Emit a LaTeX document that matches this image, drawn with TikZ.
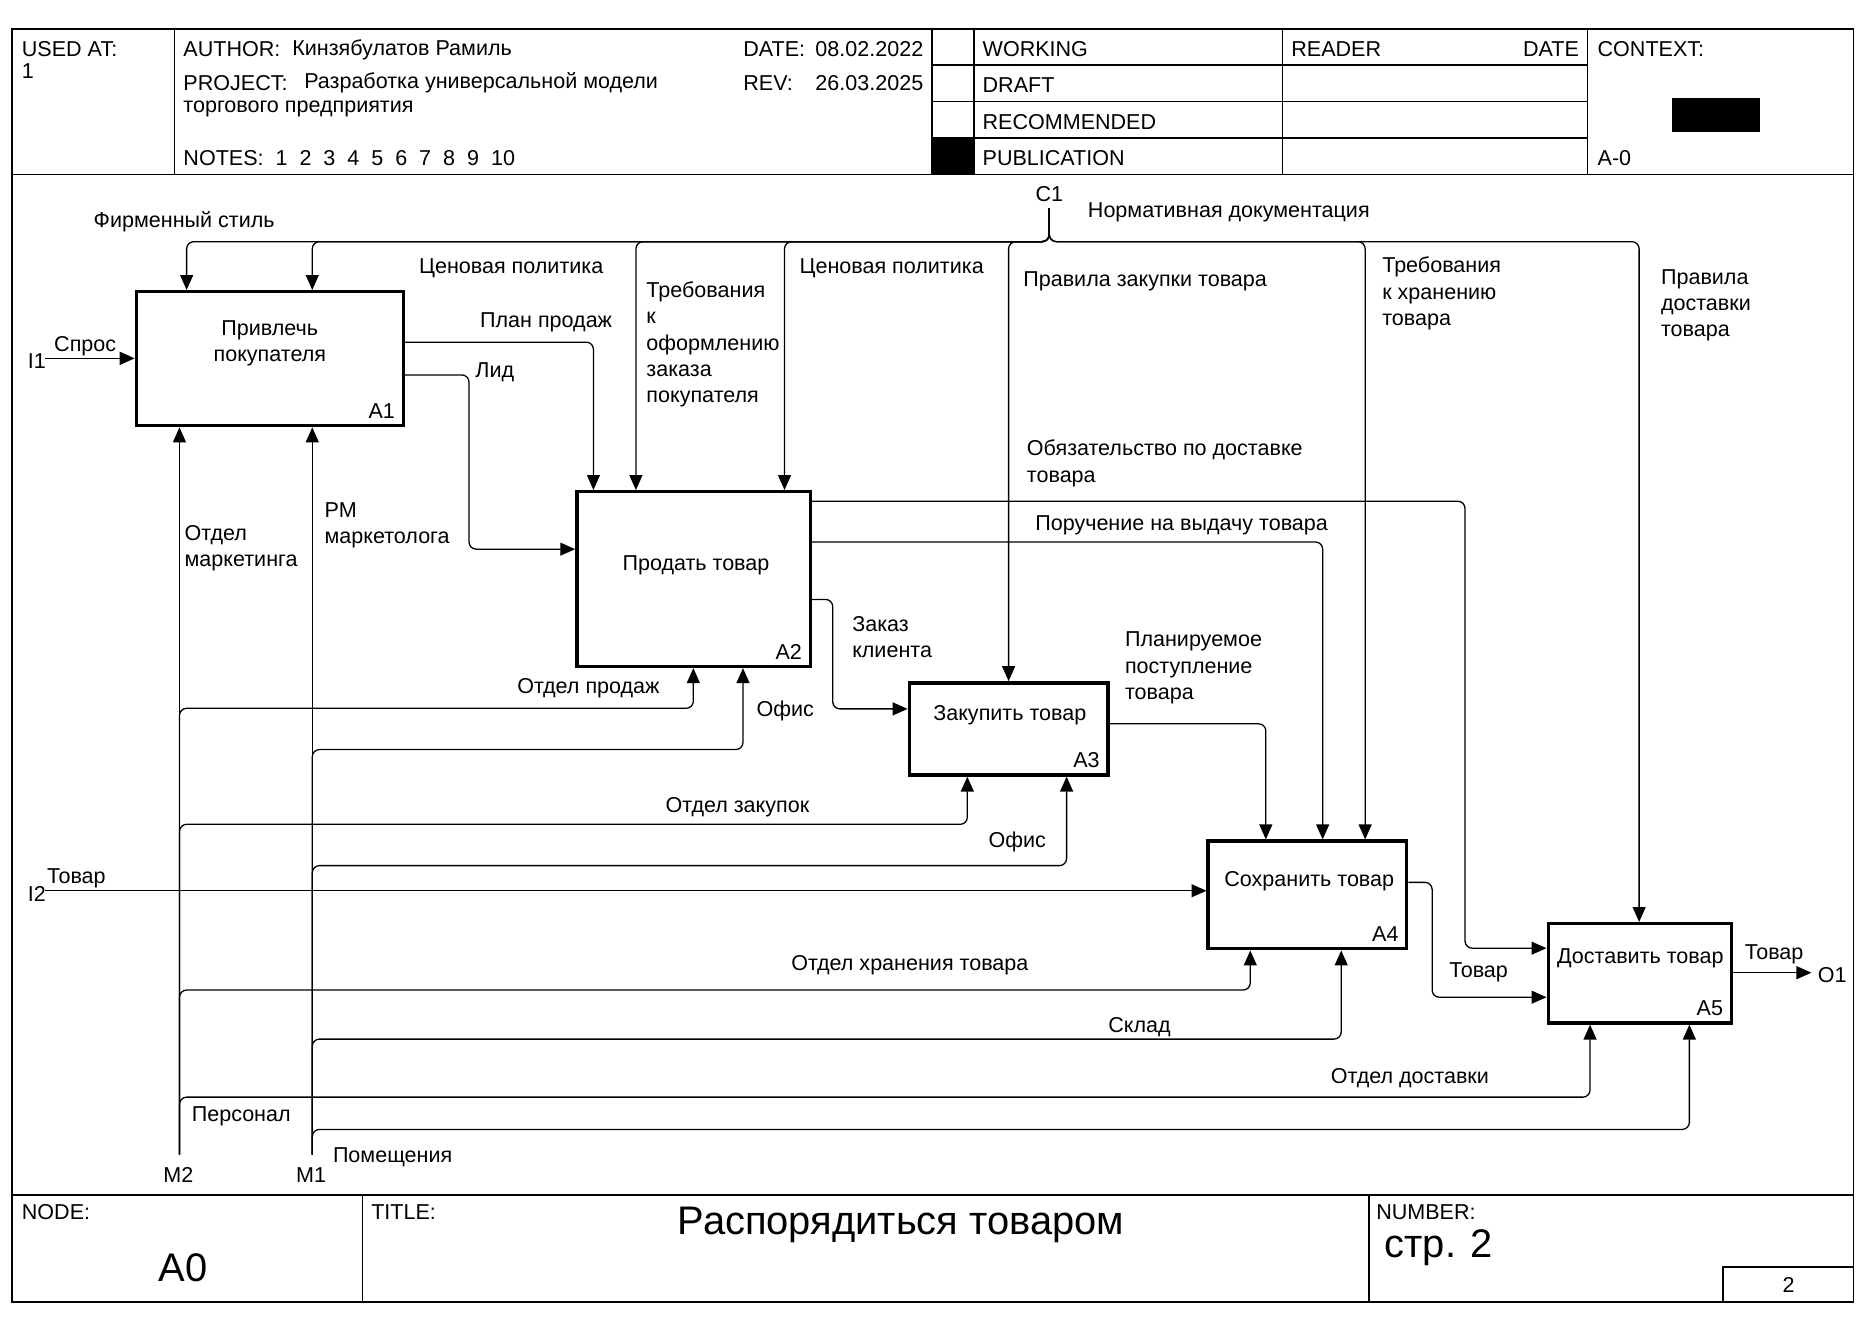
\documentclass[tikz,border=0pt]{standalone}
\usepackage{fontspec}
\setmainfont{Liberation Sans}
\usetikzlibrary{arrows.meta,calc}
\begin{document}
\begin{tikzpicture}[x=0.6pt,y=-0.6pt,
  font=\fontsize{10.8}{13.2}\selectfont,
  frame/.style={line width=0.8pt},
  conn/.style={line width=0.65pt, rounded corners=3.6pt},
  arr/.style={conn, -{Triangle[length=7.5pt,width=6.5pt]}},
  funcbox/.style={draw, line width=1.7pt, inner sep=0pt},
  lbl/.style={inner sep=0pt, anchor=west, align=left, yshift=-1.4pt},
  rlbl/.style={inner sep=0pt, anchor=east, yshift=-1.4pt},
  clbl/.style={inner sep=0pt, anchor=center, align=center, yshift=-1.4pt},
  big/.style={inner sep=0pt, font=\fontsize{20}{24}\selectfont, yshift=-1.6pt}]
\useasboundingbox (0,0) rectangle (1568,1108);
% ---------- frame ----------
\draw[frame] (10,24) rectangle (1549,1088);
\draw[frame] (10,146) -- (1549,146);
\draw[frame] (10,999) -- (1549,999);
\draw[frame] (146,24) -- (146,146);
\draw[frame] (779,24) -- (779,146);
\draw[frame] (814,24) -- (814,146);
\draw[frame] (1072,24) -- (1072,146);
\draw[frame] (1327,24) -- (1327,146);
\draw[frame] (779,54.5) -- (1327,54.5);
\draw[frame] (779,85) -- (1327,85);
\draw[frame] (779,115.5) -- (1327,115.5);
\fill (779,115.5) rectangle (814,146);
\fill (1397.6,81.6) rectangle (1470.8,110.6);
\draw[frame] (303,999) -- (303,1088);
\draw[frame] (1144,999) -- (1144,1088);
\draw[frame] (1440,1088) -- (1440,1059) -- (1549,1059);
% ---------- header text ----------
\node[lbl] (usedat) at (18,39) {USED AT:};
\node[lbl] (usedatv) at (18,57) {1};
\node[lbl] (author) at (153,39) {AUTHOR:};
\node[lbl] (authorv) at (244,39) {Кинзябулатов Рамиль};
\node[lbl] (project) at (153,67) {PROJECT:};
\node[lbl] (projectv) at (254,67) {Разработка универсальной модели};
\node[lbl] (projectv2) at (153,89) {торгового предприятия};
\node[lbl] (notes) at (153,130) {NOTES:\ \ 1\ \ 2\ \ 3\ \ 4\ \ 5\ \ 6\ \ 7\ \ 8\ \ 9\ \ 10};
\node[lbl] (date) at (621,39) {DATE:};
\node[rlbl] (datev) at (772,39) {08.02.2022};
\node[lbl] (rev) at (621,67) {REV:};
\node[rlbl] (revv) at (772,67) {26.03.2025};
\node[lbl] (working) at (821,39) {WORKING};
\node[lbl] (draft) at (821,69) {DRAFT};
\node[lbl] (recom) at (821,100) {RECOMMENDED};
\node[lbl] (publ) at (821,130) {PUBLICATION};
\node[lbl] (reader) at (1079,39) {READER};
\node[rlbl] (rdate) at (1320,39) {DATE};
\node[lbl] (context) at (1335,39) {CONTEXT:};
\node[lbl] (ctxnode) at (1335,130) {A-0};
% ---------- footer text ----------
\node[lbl] (nodelbl) at (18,1011) {NODE:};
\node[lbl] (titlelbl) at (310,1011) {TITLE:};
\node[lbl] (numlbl) at (1150,1011) {NUMBER:};
\node[big] (title) at (753,1021) {Распорядиться товаром};
\node[big] (nodev) at (153,1057) {A0};
\node[big, anchor=west] (numv) at (1157,1040) {стр. 2};
\node[clbl] (pg) at (1495,1072) {2};
% ---------- function boxes ----------
\node[funcbox, minimum width=133.8pt, minimum height=67.2pt] (A1) at (225.5,299.8) {};
\node[funcbox, minimum width=117pt, minimum height=87.6pt] (A2) at (579.7,484) {};
\node[funcbox, minimum width=99.6pt, minimum height=46.2pt] (A3) at (843,609.2) {};
\node[funcbox, minimum width=99.6pt, minimum height=54pt] (A4) at (1092.8,748) {};
\node[funcbox, minimum width=91.8pt, minimum height=49.8pt] (A5) at (1370.5,813.5) {};
\node[clbl] (A1t) at ($(A1)+(0,-15)$) {Привлечь\\покупателя};
\node[clbl] (A2t) at ($(A2)+(2,-13.5)$) {Продать товар};
\node[clbl] (A3t) at ($(A3)+(1,-14)$) {Закупить товар};
\node[clbl] (A4t) at ($(A4)+(1.5,-13.5)$) {Сохранить товар};
\node[clbl] (A5t) at ($(A5)+(0.5,-14.5)$) {Доставить товар};
\node[rlbl] (A1n) at ($(A1.south east)+(-8,-16)$) {A1};
\node[rlbl] (A2n) at ($(A2.south east)+(-8,-16)$) {A2};
\node[rlbl] (A3n) at ($(A3.south east)+(-8,-16)$) {A3};
\node[rlbl] (A4n) at ($(A4.south east)+(-8,-16)$) {A4};
\node[rlbl] (A5n) at ($(A5.south east)+(-8,-16)$) {A5};
% ---------- boundary points ----------
\coordinate (c1top) at (877,174);
\coordinate (c1bus) at (877,202);
\coordinate (i1) at (38,299.5);
\coordinate (i2) at (38,744.5);
\coordinate (o1) at (1514,813);
\coordinate (m2) at (150,965);
\coordinate (m1) at (261,965);
\node[clbl] (C1l) at (877,160) {C1};
\node[lbl] (I1l) at (23,299.5) {I1};
\node[lbl] (I2l) at (23,744.5) {I2};
\node[lbl] (O1l) at (1519,813) {O1};
\node[clbl] (M2l) at (149,980) {M2};
\node[clbl] (M1l) at (260,980) {M1};
% ---------- controls ----------
\draw[arr] (c1top) -- (c1bus) -| (A1.north -| 156,0);
\draw[arr] (c1top) -- (c1bus) -| (A1.north -| 261,0);
\draw[arr] (c1top) -- (c1bus) -| (A2.north -| 531.5,0);
\draw[arr] (c1top) -- (c1bus) -| (A2.north -| 655.7,0);
\draw[arr] (c1top) -- (c1bus) -| (A3.north -| 843,0);
\draw[arr] (c1top) -- (c1bus) -| (A4.north -| 1141,0);
\draw[arr] (c1top) -- (c1bus) -| (A5.north -| 1370,0);
% ---------- inputs ----------
\draw[arr] (i1) -- (A1.west |- i1);
\draw[arr] (i2) -- (A4.west |- i2);
% ---------- internal arrows ----------
\draw[arr] (A1.east |- 0,286) -| (A2.north -| 496,0);
\draw[arr] (A1.east |- 0,313.4) -| (392,459) -- (A2.west |- 0,459);
\draw[arr] (A2.east |- 0,419) -| (1224.5,792.5) -- (A5.west |- 0,792.5);
\draw[arr] (A2.east |- 0,453) -| (A4.north -| 1105.5,0);
\draw[arr] (A2.east |- 0,501) -| (696,592.5) -- (A3.west |- 0,592.5);
\draw[arr] (A3.east |- 0,605) -| (A4.north -| 1058,0);
\draw[arr] (A4.east |- 0,737.5) -| (1197,833.5) -- (A5.west |- 0,833.5);
\draw[arr] (A5.east |- 0,813) -- (o1);
% ---------- mechanisms ----------
\draw[arr] (m2) -- (A1.south -| m2);
\draw[arr] (m2) |- (579.5,592) -- (A2.south -| 579.5,0);
\draw[arr] (m2) |- (808.5,689) -- (A3.south -| 808.5,0);
\draw[arr] (m2) |- (1045,827.5) -- (A4.south -| 1045,0);
\draw[arr] (m2) |- (1329,917) -- (A5.south -| 1329,0);
\draw[arr] (m1) -- (A1.south -| m1);
\draw[arr] (m1) |- (621,626.5) -- (A2.south -| 621,0);
\draw[arr] (m1) |- (891.5,723.5) -- (A3.south -| 891.5,0);
\draw[arr] (m1) |- (1121,868.5) -- (A4.south -| 1121,0);
\draw[arr] (m1) |- (1412,944) -- (A5.south -| 1412,0);
% ---------- arrow labels ----------
\node[lbl] (L1) at (909,175) {Нормативная документация};
\node[lbl] (L2) at (78,183) {Фирменный стиль};
\node[lbl] (L3) at (350,222) {Ценовая политика};
\node[lbl] (L4) at (540,285.5) {Требования\\к\\оформлению\\заказа\\покупателя};
\node[lbl] (L5) at (668,222) {Ценовая политика};
\node[lbl] (L6) at (855,233) {Правила закупки товара};
\node[lbl] (L7) at (1155,243) {Требования\\к хранению\\товара};
\node[lbl] (L8) at (1388,253) {Правила\\доставки\\товара};
\node[lbl] (L9) at (45,287) {Спрос};
\node[lbl] (L10) at (39,732) {Товар};
\node[lbl] (L11) at (401,267) {План продаж};
\node[lbl] (L12) at (397,309) {Лид};
\node[lbl] (L13) at (858,385) {Обязательство по доставке\\товара};
\node[lbl] (L14) at (865,437) {Поручение на выдачу товара};
\node[lbl] (L15) at (712,530) {Заказ\\клиента};
\node[lbl] (L16) at (940,556) {Планируемое\\поступление\\товара};
\node[lbl] (L17) at (1211,810) {Товар};
\node[lbl] (L18) at (1458,795) {Товар};
\node[lbl] (L19) at (154,456) {Отдел\\маркетинга};
\node[lbl] (L20) at (271,436.5) {РМ\\маркетолога};
\node[lbl] (L21) at (432,573) {Отдел продаж};
\node[lbl] (L22) at (632,592) {Офис};
\node[lbl] (L23) at (556,672) {Отдел закупок};
\node[lbl] (L24) at (826,701) {Офис};
\node[lbl] (L25) at (661,804) {Отдел хранения товара};
\node[lbl] (L26) at (926,856) {Склад};
\node[lbl] (L27) at (1112,899) {Отдел доставки};
\node[lbl] (L28) at (160,931) {Персонал};
\node[lbl] (L29) at (278,965) {Помещения};
\end{tikzpicture}
\end{document}
